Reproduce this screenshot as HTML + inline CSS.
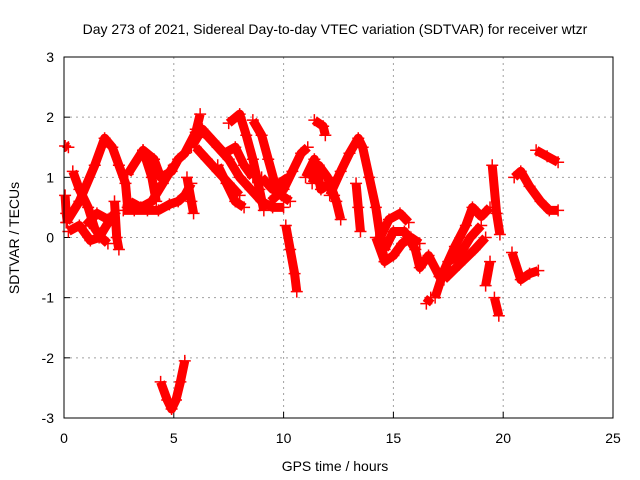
<!DOCTYPE html>
<html><head><meta charset="utf-8"><style>
body{margin:0;background:#fff}
svg{display:block;font-family:"Liberation Sans",sans-serif}
</style></head><body>
<svg id="chart" width="640" height="480">
<rect width="640" height="480" fill="#fff"/>
<text x="335" y="34" font-size="14" text-anchor="middle">Day 273 of 2021, Sidereal Day-to-day VTEC variation (SDTVAR) for receiver wtzr</text>
<text x="335" y="471" font-size="14" text-anchor="middle">GPS time / hours</text>
<text transform="translate(19,238) rotate(-90)" font-size="14" text-anchor="middle">SDTVAR / TECUs</text>
<g id="grid"></g><g id="ticks"></g><g id="marks"></g>
<rect x="64" y="57" width="549" height="361" fill="none" stroke="#000" stroke-width="1"/>
</svg>
<script>
const xTicks=[0,5,10,15,20,25];
const yTicks=[-3,-2,-1,0,1,2,3];
const tracks=[
[[0.05,1.52],[0.2,1.5]],
[[0.05,0.7],[0.1,0.4],[0.15,0.25]],
[[0.1,0.25],[0.7,0.6],[1.4,1.2],[1.85,1.65],[2.2,1.5],[2.5,1.2],[2.8,0.9],[2.9,0.5]],
[[0.4,1.1],[0.7,0.8],[1.1,0.5],[1.4,0.15],[1.7,0.0],[2.0,-0.1]],
[[0.2,0.1],[0.7,0.2],[1.2,-0.05],[1.6,0.0],[2.1,0.3],[2.3,0.4]],
[[1.0,0.2],[1.5,0.4],[2.0,0.3]],
[[2.3,0.6],[2.4,0.0],[2.5,-0.2]],
[[2.7,0.45],[3.2,0.45],[3.8,0.45],[4.3,0.45],[4.8,0.55],[5.2,0.6],[5.5,0.7],[5.8,0.9]],
[[3.0,0.6],[3.5,0.5],[4.0,0.6],[4.5,0.9],[5.0,1.2]],
[[2.9,1.05],[3.6,1.45],[4.1,1.3],[4.4,1.0],[4.9,1.1],[5.2,1.3],[5.5,1.4],[6.0,1.75],[6.2,2.05]],
[[3.6,1.45],[4.0,1.0],[4.2,0.6]],
[[4.4,-2.4],[4.7,-2.7],[4.9,-2.85],[5.1,-2.7],[5.3,-2.4],[5.5,-2.05]],
[[5.6,1.0],[5.8,0.6],[5.9,0.4]],
[[6.0,1.8],[6.5,1.7],[7.0,1.5],[7.5,1.3],[8.0,1.0],[8.5,0.8],[9.0,0.6],[9.5,0.5],[10.0,0.5]],
[[6.0,1.5],[6.5,1.3],[7.0,1.1],[7.5,0.9],[8.0,0.7]],
[[5.8,1.5],[6.3,1.8],[6.8,1.6],[7.3,1.4],[7.8,1.5],[8.2,1.2],[8.6,1.0]],
[[7.5,1.9],[8.0,2.05],[8.3,1.7],[8.6,1.3],[8.9,0.8],[9.1,0.45]],
[[7.0,1.2],[7.4,0.9],[7.8,0.6],[8.2,0.5]],
[[8.6,1.95],[9.0,1.7],[9.3,1.3],[9.6,0.9],[9.9,0.7],[10.3,0.6]],
[[9.0,1.0],[9.5,0.8],[9.8,0.9],[10.2,1.0]],
[[10.1,0.2],[10.3,-0.2],[10.5,-0.6],[10.6,-0.9]],
[[9.4,0.6],[10.0,0.8],[10.4,1.1],[10.8,1.4],[11.1,1.5]],
[[11.4,1.95],[11.8,1.85],[11.9,1.7]],
[[11.0,1.0],[11.4,1.3],[11.7,0.8],[12.1,0.9],[12.4,0.6],[12.6,0.3]],
[[11.3,0.9],[11.6,1.2],[12.0,1.0],[12.3,0.7]],
[[12.1,0.7],[12.6,1.1],[13.0,1.4],[13.4,1.65],[13.6,1.5],[13.9,1.0],[14.2,0.5],[14.4,0.0],[14.6,-0.4]],
[[13.3,0.9],[13.4,0.5],[13.5,0.1]],
[[14.4,0.0],[14.8,0.3],[15.3,0.4],[15.7,0.25]],
[[14.2,0.0],[14.6,-0.4],[15.0,-0.3],[15.4,-0.1],[15.8,0.0],[16.2,-0.1]],
[[14.6,-0.2],[15.0,0.1],[15.5,0.1],[16.0,-0.2],[16.2,-0.5],[16.6,-0.3],[17.1,-0.65],[17.6,-0.5]],
[[16.5,-1.1],[16.7,-1.0]],
[[16.9,-1.0],[17.3,-0.55],[17.8,-0.15],[18.3,0.2],[18.6,0.5],[19.0,0.35],[19.4,0.5]],
[[17.3,-0.7],[18.0,-0.45],[18.7,-0.2],[19.2,0.0]],
[[17.5,-0.4],[18.0,-0.3],[18.5,0.0],[19.0,0.2]],
[[19.2,-0.8],[19.4,-0.4]],
[[19.5,1.2],[19.7,0.4],[19.85,0.05]],
[[19.6,-1.0],[19.8,-1.3]],
[[20.5,1.0],[20.8,1.1],[21.2,0.85],[21.7,0.6],[22.1,0.45],[22.5,0.45]],
[[21.5,1.45],[22.0,1.35],[22.5,1.25]],
[[20.4,-0.25],[20.8,-0.7],[21.2,-0.6],[21.6,-0.55]]
];
const X0=64,X1=613,Y0=418,Y1=57;
const xs=t=>X0+(t-0)/(25-0)*(X1-X0);
const ys=v=>Y0-(v+3)/6*(Y0-Y1);
const NS='http://www.w3.org/2000/svg';
const grid=document.getElementById('grid'),ticks=document.getElementById('ticks'),marks=document.getElementById('marks');
function mk(tag,parent){const e=document.createElementNS(NS,tag);parent.appendChild(e);return e;}
xTicks.forEach(t=>{const x=xs(t);
 if(t>0&&t<25){const g=mk('line',grid);g.setAttribute('x1',x);g.setAttribute('x2',x);g.setAttribute('y1',Y1);g.setAttribute('y2',Y0);g.setAttribute('stroke','#a0a0a0');g.setAttribute('stroke-dasharray','2,4');
 
 }
 const l=mk('line',ticks);l.setAttribute('x1',x);l.setAttribute('x2',x);l.setAttribute('y1',Y0);l.setAttribute('y2',Y0-6);l.setAttribute('stroke','#000');
 
 
 const tx=mk('text',ticks);tx.setAttribute('x',x);tx.setAttribute('y',443);tx.setAttribute('font-size','14');tx.setAttribute('text-anchor','middle');tx.textContent=t;
 
 
});
yTicks.forEach(v=>{const y=ys(v);
 if(v>-3&&v<3){const g=mk('line',grid);g.setAttribute('x1',X0);g.setAttribute('x2',X1);g.setAttribute('y1',y);g.setAttribute('y2',y);g.setAttribute('stroke','#a0a0a0');g.setAttribute('stroke-dasharray','2,4');
 
 }
 const l=mk('line',ticks);l.setAttribute('x1',X0);l.setAttribute('x2',X0+6);l.setAttribute('y1',y);l.setAttribute('y2',y);l.setAttribute('stroke','#000');
 
 
 const tx=mk('text',ticks);tx.setAttribute('x',54);tx.setAttribute('y',y+5);tx.setAttribute('font-size','14');tx.setAttribute('text-anchor','end');tx.textContent=v;
 
 
});
tracks.forEach(tr=>{
 const pl=mk('polyline',marks);
 pl.setAttribute('points',tr.map(p=>xs(p[0])+','+ys(p[1])).join(' '));
 pl.setAttribute('fill','none');pl.setAttribute('stroke','#ff0000');pl.setAttribute('stroke-width','9');pl.setAttribute('stroke-linejoin','round');
 
 
 tr.forEach(p=>{const x=xs(p[0]),y=ys(p[1]);
  const m=mk('path',marks);m.setAttribute('d',`M${x-6},${y}H${x+6}M${x},${y-6}V${y+6}`);m.setAttribute('stroke','#ff0000');m.setAttribute('stroke-width','1.5');
  
  
 });
});
</script>
</body></html>
